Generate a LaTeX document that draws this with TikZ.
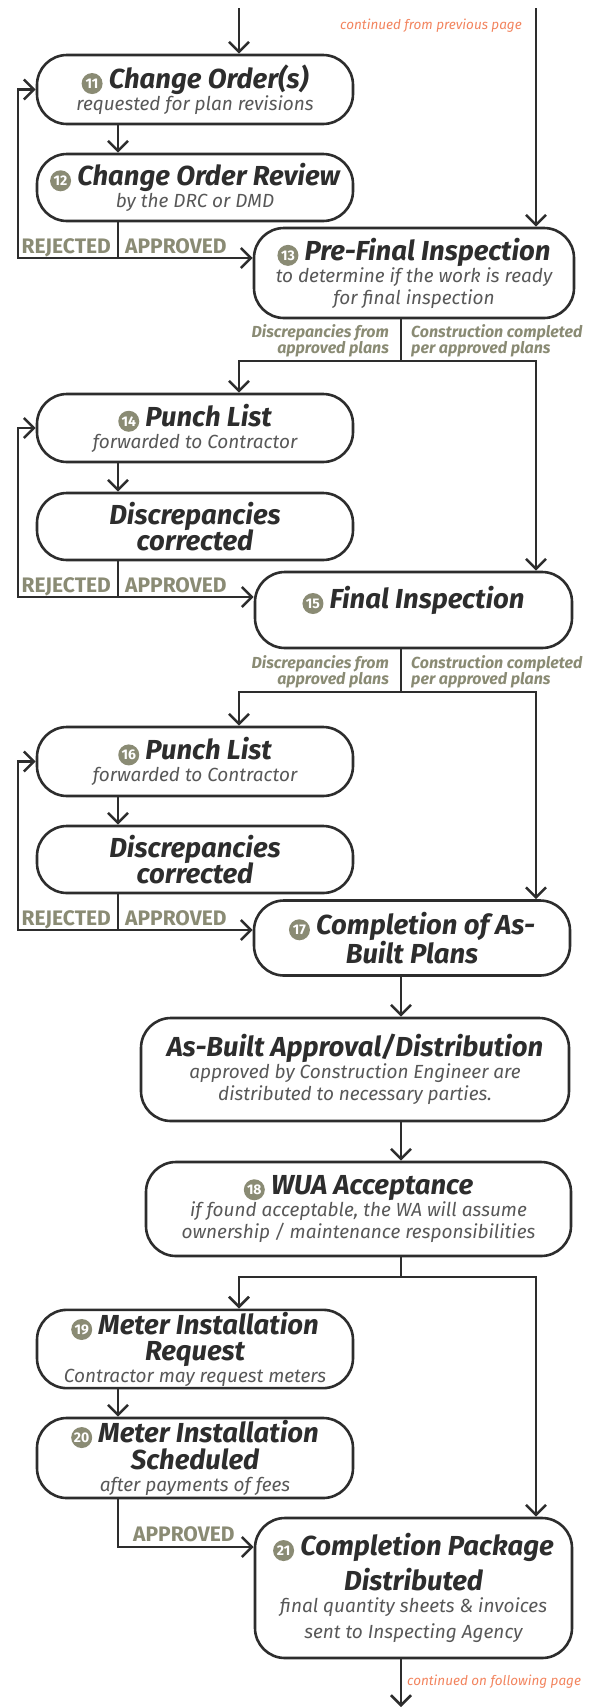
\documentclass[tikz,border=0pt]{standalone}
\usepackage{fontspec}
\setmainfont{Fira Sans}
\usetikzlibrary{positioning,arrows.meta}

\definecolor{ink}{HTML}{2D2D2D}
\definecolor{olive}{HTML}{8A8B74}
\definecolor{subgray}{HTML}{585858}
\definecolor{salmon}{HTML}{F2845E}

\newcommand{\stitle}{\fontsize{27.5}{29}\selectfont\bfseries\itshape\color{ink}}
\newcommand{\ssub}{\fontsize{19}{22}\selectfont\mdseries\itshape\color{subgray}}
\newcommand{\stepnum}[1]{\tikz[baseline=(sn.base)] \node[circle, fill=olive, text=white, inner sep=0pt, minimum size=21pt, font=\fontsize{14}{14}\selectfont\bfseries\upshape] (sn) {#1};}

\begin{document}
\begin{tikzpicture}[x=1pt, y=-1pt, >={Straight Barb[length=10pt,width=20pt]},
    stage/.style={draw=ink, line width=2.6pt, rounded corners=30pt, fill=white, align=center, inner sep=2pt, font=\ssub},
    flow/.style={ink, line width=2.6pt},
    lbl/.style={font=\fontsize{21}{21}\selectfont\bfseries, text=olive, inner sep=1pt, text height=15pt, text depth=0pt},
    branch/.style={font=\fontsize{16}{16}\selectfont\bfseries\itshape, text=olive, inner sep=0pt},
    note/.style={font=\fontsize{13.5}{14}\selectfont\itshape, text=salmon, inner sep=0pt}]
    \useasboundingbox (0,0) rectangle (594,1708);

    % Columns
    \coordinate (colLoop) at (18,0);
    \coordinate (colL) at (118,0);
    \coordinate (colMid) at (401,0);
    \coordinate (from1) at (239,8);
    \coordinate (from2) at (536,8);
    \coordinate (to1) at (401,1707);

    % Change orders
    \node[stage, minimum width=316pt, minimum height=69pt] (b11) at (195,89.5) {{\stitle\stepnum{11} Change Order(s)}\\requested for plan revisions};
    \node[stage, minimum width=316pt, minimum height=67pt] (b12) at (195,187.5) {{\stitle\stepnum{12} Change Order Review}\\by the DRC or DMD};
    \node[stage, minimum width=320pt, minimum height=90pt] (b13) at (414,273) {{\stitle\stepnum{13} Pre-Final Inspection}\\to determine if the work is ready\\for final inspection};

    % Punch list 14
    \node[stage, minimum width=316pt, minimum height=68pt] (b14) at (195,428) {{\stitle\stepnum{14} Punch List}\\forwarded to Contractor};
    \node[stage, font=\stitle, minimum width=316pt, minimum height=67pt] (d14) at (195,526.5) {Discrepancies\\[-3pt]corrected};
    \node[stage, minimum width=317pt, minimum height=76pt] (b15) at (413.5,610) {{\stitle\stepnum{15} Final Inspection}\\[4pt]~};

    % Punch list 16
    \node[stage, minimum width=316pt, minimum height=69pt] (b16) at (195,761.5) {{\stitle\stepnum{16} Punch List}\\forwarded to Contractor};
    \node[stage, font=\stitle, minimum width=316pt, minimum height=67pt] (d16) at (195,859.5) {Discrepancies\\[-3pt]corrected};
    \node[stage, font=\stitle, minimum width=316pt, minimum height=75pt] (b17) at (412,938) {\stepnum{17} Completion of As-\\Built Plans};

    % As-built and acceptance
    \node[stage, minimum width=428pt, minimum height=103pt] (asb) at (355,1069.5) {{\stitle As-Built Approval/Distribution}\\approved by Construction Engineer are\\distributed to necessary parties.};
    \node[stage, minimum width=425pt, minimum height=94pt] (b18) at (358.5,1209) {{\stitle\stepnum{18} WUA Acceptance}\\if found acceptable, the WA will assume\\ownership / maintenance responsibilities};

    % Meters and completion
    \node[stage, minimum width=316pt, minimum height=78pt] (b19) at (195,1349) {{\stitle\stepnum{19} Meter Installation}\\{\stitle Request}\\Contractor may request meters};
    \node[stage, minimum width=316pt, minimum height=78pt] (b20) at (195,1458) {{\stitle\stepnum{20} Meter Installation}\\{\stitle Scheduled}\\after payments of fees};
    \node[stage, minimum width=317pt, minimum height=140pt] (b21) at (413.5,1588) {{\stitle\stepnum{21} Completion Package}\\[6pt]{\stitle Distributed}\\final quantity sheets \& invoices\\[4pt]sent to Inspecting Agency};

    % Page notes
    \node[note, anchor=east] (prev) at (522,26) {continued from previous page};
    \node[note, anchor=west] (next) at (407,1682) {continued on following page};

    % Connections
    \draw[flow,->] (from1) -- (from1 |- b11.north);
    \draw[flow,->] (from2) -- (from2 |- b13.north);
    \draw[flow,->] (b11.south -| colL) -- (b12.north -| colL);

    \coordinate (j12) at (118,258);
    \draw[flow] (b12.south -| colL) -- (j12);
    \draw[flow,->] (j12) -| (colLoop |- b11.west) -- (b11.west);
    \draw[flow,->] (j12) -- (j12 -| b13.west);
    \node[lbl, above left=3pt and 6pt of j12] (rej12) {REJECTED};
    \node[lbl, above right=3pt and 6pt of j12] (app12) {APPROVED};

    \coordinate (s13) at (401,361);
    \draw[flow] (b13.south -| colMid) -- (s13);
    \draw[flow,->] (s13) -| (from1 |- b14.north);
    \draw[flow,->] (s13) -| (from2 |- b15.north);
    \node[branch, anchor=east, align=right] (dis13) at (389,341) {Discrepancies from\\approved plans};
    \node[branch, anchor=west, align=left] (con13) at (411,341) {Construction completed\\per approved plans};

    \draw[flow,->] (b14.south -| colL) -- (d14.north -| colL);
    \coordinate (j14) at (118,597);
    \draw[flow] (d14.south -| colL) -- (j14);
    \draw[flow,->] (j14) -| (colLoop |- b14.west) -- (b14.west);
    \draw[flow,->] (j14) -- (j14 -| b15.west);
    \node[lbl, above left=3pt and 6pt of j14] (rej14) {REJECTED};
    \node[lbl, above right=3pt and 6pt of j14] (app14) {APPROVED};

    \coordinate (s15) at (401,692);
    \draw[flow] (b15.south -| colMid) -- (s15);
    \draw[flow,->] (s15) -| (from1 |- b16.north);
    \draw[flow,->] (s15) -| (from2 |- b17.north);
    \node[branch, anchor=east, align=right] (dis15) at (389,672) {Discrepancies from\\approved plans};
    \node[branch, anchor=west, align=left] (con15) at (411,672) {Construction completed\\per approved plans};

    \draw[flow,->] (b16.south -| colL) -- (d16.north -| colL);
    \coordinate (j16) at (118,930);
    \draw[flow] (d16.south -| colL) -- (j16);
    \draw[flow,->] (j16) -| (colLoop |- b16.west) -- (b16.west);
    \draw[flow,->] (j16) -- (j16 -| b17.west);
    \node[lbl, above left=3pt and 6pt of j16] (rej16) {REJECTED};
    \node[lbl, above right=3pt and 6pt of j16] (app16) {APPROVED};

    \draw[flow,->] (b17.south -| colMid) -- (asb.north -| colMid);
    \draw[flow,->] (asb.south -| colMid) -- (b18.north -| colMid);

    \coordinate (s18) at (401,1277);
    \draw[flow] (b18.south -| colMid) -- (s18);
    \draw[flow,->] (s18) -| (from1 |- b19.north);
    \draw[flow,->] (s18) -| (from2 |- b21.north);

    \draw[flow,->] (b19.south -| colL) -- (b20.north -| colL);
    \coordinate (j20) at (118,1547);
    \draw[flow,->] (b20.south -| colL) -- (j20) -- (j20 -| b21.west);
    \node[lbl, above right=4pt and 14pt of j20] (app20) {APPROVED};

    \draw[flow,->] (b21.south -| colMid) -- (to1);
\end{tikzpicture}
\end{document}
